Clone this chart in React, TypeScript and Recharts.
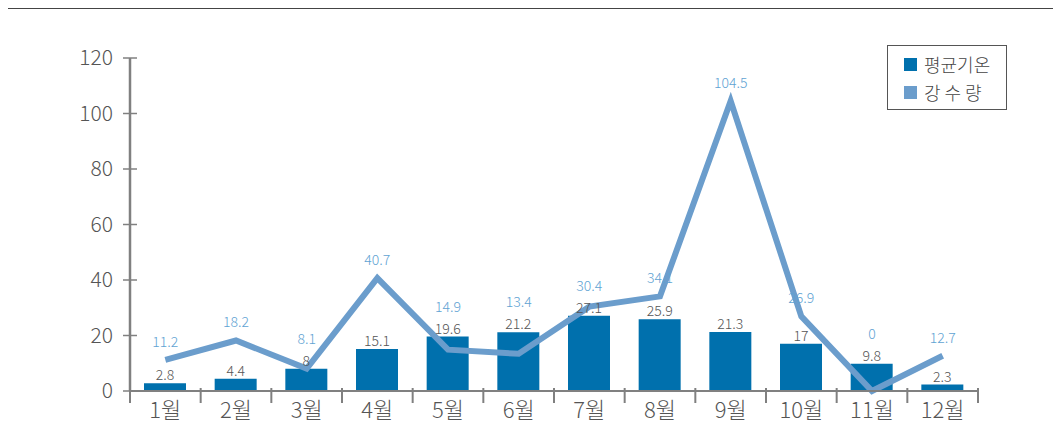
import React from "react";
import { ComposedChart, Bar, Line, XAxis, YAxis, LabelList } from "recharts";

const months = ["1월", "2월", "3월", "4월", "5월", "6월", "7월", "8월", "9월", "10월", "11월", "12월"];
const avgTemp = [2.8, 4.4, 8, 15.1, 19.6, 21.2, 27.1, 25.9, 21.3, 17, 9.8, 2.3];
const rainfall = [11.2, 18.2, 8.1, 40.7, 14.9, 13.4, 30.4, 34.1, 104.5, 26.9, 0, 12.7];
const yTicks = [0, 20, 40, 60, 80, 100, 120];
const legendItems = ["평균기온", "강 수 량"];

const data = months.map((m, i) => ({ month: m, temp: avgTemp[i], rain: rainfall[i] }));

const W = 1061;
const H = 440;
const LEFT = 130;
const RIGHT = 83;
const TOP = 58;
const BOTTOM = 49;
const BAND = (W - LEFT - RIGHT) / months.length;
const PX_PER_UNIT = (H - TOP - BOTTOM) / 120;

const FONT = "'Noto Sans CJK KR', 'Noto Sans', sans-serif";
const AXIS = "#808080";
const BAR = "#0070ad";
const LINE = "#6b9dcc";

const YTick = (props: any) => {
  const { x, y, payload } = props;
  return (
    <g>
      <line x1={x - 7} x2={x + 7} y1={y} y2={y} stroke={AXIS} strokeWidth={1.5} />
      <text x={x - 17} y={y} dy="0.35em" textAnchor="end" fontSize={21} fill="#555" fontWeight={300} fontFamily={FONT}>
        {payload.value}
      </text>
    </g>
  );
};

const XTick = (props: any) => {
  const { x, y, payload, index } = props;
  const left = x - BAND / 2;
  const last = index === months.length - 1;
  return (
    <g>
      <line x1={left} x2={left} y1={y - 3} y2={y + 12} stroke={AXIS} strokeWidth={2} />
      {last && <line x1={x + BAND / 2} x2={x + BAND / 2} y1={y - 3} y2={y + 12} stroke={AXIS} strokeWidth={2} />}
      <text x={x} y={y + 19} dy="0.35em" textAnchor="middle" fontSize={22} fill="#555" fontWeight={300} fontFamily={FONT}>
        {payload.value}
      </text>
    </g>
  );
};

// line value label: above the point, but kept clear of the bar's own label
const RainLabel = (props: any) => {
  const { x, y, value, index } = props;
  const temp = avgTemp[index];
  const rain = rainfall[index];
  const barTopOffset = (rain - temp) * PX_PER_UNIT;
  const cy = Math.min(y - 18, y + barTopOffset - 30);
  return (
    <text x={x} y={cy} dy="0.35em" textAnchor="middle" fontSize={14} fill="#5fa3d3" fontWeight={300} fontFamily={FONT}>
      {value}
    </text>
  );
};

const LegendBox = () => (
  <div
    style={{
      position: "absolute",
      left: 887,
      top: 45,
      width: 120,
      height: 65,
      border: "1.5px solid #555",
      boxSizing: "border-box",
      fontFamily: FONT,
      fontSize: 18,
      color: "#444",
      fontWeight: 300,
      paddingLeft: 16,
      paddingTop: 4,
      background: "#fff",
    }}
  >
    {legendItems.map((name, i) => (
      <div key={name} style={{ display: "flex", alignItems: "center", height: 28 }}>
        <span style={{ display: "inline-block", width: 13, height: 13, background: i === 0 ? BAR : LINE, marginRight: 7 }} />
        <span style={{ lineHeight: "28px" }}>{name}</span>
      </div>
    ))}
  </div>
);

export default function App() {
  return (
    <div style={{ position: "relative", width: W, height: H, margin: -8, background: "#fff", overflow: "hidden" }}>
      <div style={{ position: "absolute", left: 6, top: 7, right: 0, height: 1.5, background: "#444" }} />
      <div style={{ position: "absolute", left: 5.5, top: 7, width: 2, bottom: 0, background: "#333" }} />
      <div style={{ position: "absolute", left: 0, top: 0 }}>
        <ComposedChart width={W} height={H} data={data} margin={{ top: TOP, right: RIGHT, bottom: 0, left: 0 }}>
          <XAxis
            dataKey="month"
            axisLine={{ stroke: AXIS, strokeWidth: 2 }}
            tickLine={false}
            tick={<XTick />}
            tickSize={0}
            tickMargin={0}
            interval={0}
            height={BOTTOM}
          />
          <YAxis
            domain={[0, 120]}
            ticks={yTicks}
            width={LEFT}
            axisLine={{ stroke: AXIS, strokeWidth: 2.5 }}
            tickLine={false}
            tick={<YTick />}
            tickSize={0}
            tickMargin={0}
            interval={0}
          />
          <Bar dataKey="temp" name="평균기온" fill={BAR} barSize={42} isAnimationActive={false}>
            <LabelList dataKey="temp" position="top" offset={3} fontSize={14} fill="#555" fontFamily={FONT} fontWeight={300} />
          </Bar>
          <Line
            dataKey="rain"
            name="강 수 량"
            type="linear"
            stroke={LINE}
            strokeWidth={6}
            dot={false}
            activeDot={false}
            isAnimationActive={false}
          >
            <LabelList dataKey="rain" content={<RainLabel />} />
          </Line>
        </ComposedChart>
      </div>
      <LegendBox />
    </div>
  );
}
